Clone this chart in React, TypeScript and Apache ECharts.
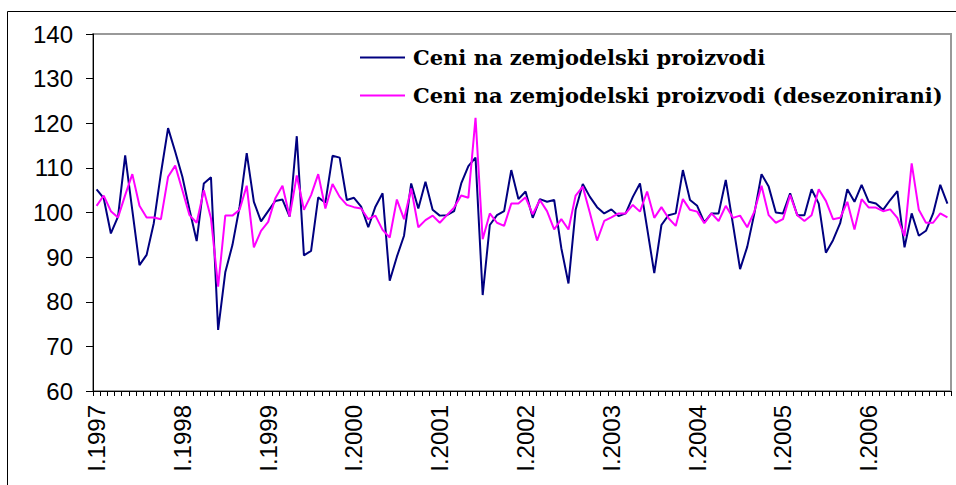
import React, { useEffect, useRef } from "react";
import * as echarts from "echarts";

const months = ["I", "II", "III", "IV", "V", "VI", "VII", "VIII", "IX", "X", "XI", "XII"];
const years = [1997, 1998, 1999, 2000, 2001, 2002, 2003, 2004, 2005, 2006];

const seriesNames = [
  "Ceni na zemjodelski proizvodi",
  "Ceni na zemjodelski proizvodi (desezonirani)",
];

const prices = [
  105.2, 103.2, 95.3, 99.1, 112.8, 100.5, 88.2, 90.5, 97.6, 108.8, 118.9, 113.6,
  108.0, 100.6, 93.6, 106.5, 107.9, 73.7, 86.6, 92.7, 101.3, 113.3, 102.4, 98.0,
  100.3, 102.6, 102.9, 99.1, 117.1, 90.4, 91.4, 103.4, 102.2, 112.7, 112.3, 102.8,
  103.3, 101.3, 96.7, 101.3, 104.3, 84.7, 90.1, 94.8, 106.5, 100.9, 106.9, 100.6,
  99.3, 99.4, 100.3, 106.5, 110.4, 112.3, 81.5, 97.2, 99.4, 100.3, 109.5, 103.0,
  104.7, 98.8, 103.0, 102.4, 102.8, 92.0, 84.1, 100.6, 106.4, 103.5, 101.2, 99.8,
  100.7, 99.2, 99.8, 103.5, 106.5, 96.5, 86.4, 97.2, 99.4, 99.8, 109.5, 102.8,
  101.5, 97.8, 99.8, 99.8, 107.3, 97.4, 87.3, 92.3, 99.8, 108.6, 105.8, 100.0,
  99.8, 104.3, 99.4, 99.4, 105.2, 102.0, 91.0, 93.8, 97.6, 105.2, 102.4, 106.2,
  102.4, 102.0, 100.6, 102.8, 104.8, 92.2, 99.8, 94.8, 95.9, 99.8, 106.2, 102.0,
];

const pricesSA = [
  101.5, 103.8, 100.3, 98.9, 103.9, 108.6, 101.5, 98.9, 98.9, 98.5, 108.0, 110.5,
  105.0, 99.4, 97.7, 105.0, 98.7, 83.4, 99.3, 99.3, 100.6, 106.0, 92.2, 95.9,
  97.9, 103.2, 106.0, 99.1, 108.3, 100.6, 103.9, 108.6, 100.9, 106.4, 103.5, 101.7,
  101.2, 100.9, 98.5, 99.3, 96.1, 94.4, 102.9, 98.5, 105.4, 96.7, 98.3, 99.3,
  97.7, 99.4, 101.1, 103.8, 103.3, 121.2, 94.0, 99.8, 97.7, 97.0, 102.0, 102.0,
  103.4, 99.6, 102.8, 100.3, 96.2, 98.5, 96.2, 103.8, 105.8, 99.9, 93.7, 98.1,
  98.9, 99.8, 99.8, 101.7, 100.2, 104.7, 98.8, 101.2, 98.7, 97.0, 103.0, 100.6,
  100.2, 97.6, 99.8, 98.1, 101.5, 98.8, 99.3, 96.7, 100.2, 106.0, 99.4, 97.7,
  98.5, 103.9, 99.4, 98.1, 99.4, 105.2, 102.6, 98.5, 98.8, 102.4, 96.2, 103.0,
  101.1, 101.1, 100.3, 100.7, 98.8, 94.7, 111.0, 100.6, 97.7, 97.7, 99.8, 98.9,
];

const categories: string[] = [];
years.forEach((y) => months.forEach((m) => categories.push(m + "." + y)));

export default function App() {
  const ref = useRef<HTMLDivElement>(null);
  useEffect(() => {
    if (!ref.current) return;
    const chart = echarts.init(ref.current, null, { renderer: "svg" });
    chart.setOption({
      animation: false,
      backgroundColor: "#ffffff",
      graphic: [
        {
          type: "rect",
          shape: { x: 7.5, y: 11.5, width: 980, height: 500 },
          style: { fill: "none", stroke: "#000", lineWidth: 1 },
          silent: true,
        },
      ],
      legend: {
        orient: "vertical",
        left: 355,
        top: 42,
        icon: "rect",
        itemWidth: 45,
        itemHeight: 2,
        itemGap: 17,
        textStyle: {
          fontFamily: "DejaVu Serif",
          fontWeight: "bold",
          fontSize: 21,
          color: "#000",
          padding: [0, 0, 0, 3],
        },
        data: seriesNames,
      },
      grid: {
        left: 93,
        right: 5,
        top: 34,
        bottom: 94,
        show: true,
        borderColor: "#999",
        borderWidth: 2,
        backgroundColor: "transparent",
      },
      xAxis: {
        type: "category",
        data: categories,
        boundaryGap: true,
        axisLine: { show: true, lineStyle: { color: "#000", width: 1 } },
        axisTick: { show: true, interval: 0, length: 5, lineStyle: { color: "#000" } },
        axisLabel: {
          interval: 11,
          rotate: 90,
          margin: 14,
          fontFamily: "Liberation Sans",
          fontSize: 24,
          color: "#000",
        },
        splitLine: { show: false },
      },
      yAxis: {
        type: "value",
        min: 60,
        max: 140,
        interval: 10,
        axisLine: { show: true, lineStyle: { color: "#000", width: 1 } },
        axisTick: { show: true, length: 7, lineStyle: { color: "#000" } },
        axisLabel: {
          margin: 20,
          fontFamily: "Liberation Sans",
          fontSize: 24,
          color: "#000",
        },
        splitLine: { show: false },
      },
      series: [
        {
          name: seriesNames[0],
          type: "line",
          data: prices,
          symbol: "none",
          lineStyle: { color: "#000080", width: 2 },
          itemStyle: { color: "#000080" },
        },
        {
          name: seriesNames[1],
          type: "line",
          data: pricesSA,
          symbol: "none",
          lineStyle: { color: "#FF00FF", width: 2 },
          itemStyle: { color: "#FF00FF" },
        },
      ],
    });
    return () => chart.dispose();
  }, []);
  return (
    <div
      ref={ref}
      style={{ position: "fixed", left: 0, top: 0, width: 956, height: 485 }}
    />
  );
}
